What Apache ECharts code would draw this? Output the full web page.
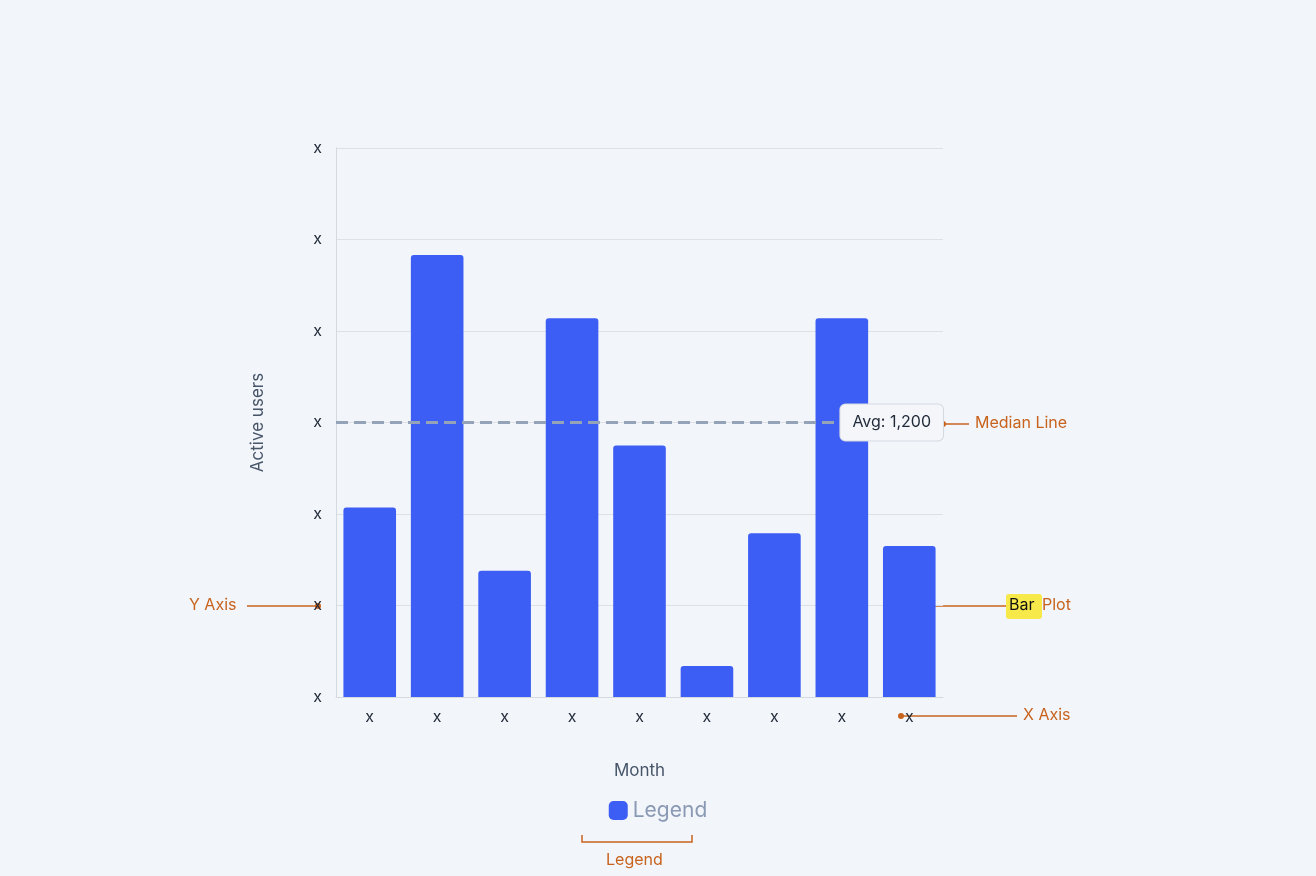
<!DOCTYPE html>
<html>
<head>
<meta charset="utf-8">
<script src="https://cdn.jsdelivr.net/npm/echarts@6/dist/echarts.min.js"></script>
<style>
  html, body { margin: 0; padding: 0; background: #f2f5fa; }
  #main { width: 1316px; height: 876px; }
</style>
</head>
<body>
<div id="main"></div>
<script>
// chart data
var months = ['Jan', 'Feb', 'Mar', 'Apr', 'May', 'Jun', 'Jul', 'Aug', 'Sep'];
var activeUsers = [828, 1932, 552, 1656, 1100, 136, 716, 1656, 660];
var avgValue = 1200;

var orange = '#c8631e';
var chart = echarts.init(document.getElementById('main'));

var option = {
    backgroundColor: '#f2f5fa',
    textStyle: { fontFamily: 'Inter' },
    grid: { left: 336, right: 373, top: 148, bottom: 179 },
    legend: {
        bottom: 50,
        left: 'center',
        itemWidth: 19,
        itemHeight: 19,
        itemGap: 12,
        icon: 'roundRect',
        textStyle: { color: '#8a9ab5', fontSize: 21, fontFamily: 'Inter' },
        data: ['Legend']
    },
    xAxis: {
        type: 'category',
        data: months,
        name: 'Month',
        nameLocation: 'middle',
        nameGap: 65,
        nameTextStyle: { color: '#475569', fontSize: 17 },
        axisLine: { lineStyle: { color: '#d5d9e0' } },
        axisTick: { show: false },
        axisLabel: { color: '#1f2937', fontSize: 16, margin: 12, formatter: function () { return 'x'; } }
    },
    yAxis: {
        type: 'value',
        min: 0,
        max: 2400,
        interval: 400,
        name: 'Active users',
        nameLocation: 'middle',
        nameGap: 70,
        nameTextStyle: { color: '#475569', fontSize: 17 },
        axisLine: { show: true, lineStyle: { color: '#d5d9e0' } },
        splitLine: { lineStyle: { color: '#dde1e7' } },
        axisLabel: { color: '#1f2937', fontSize: 16, margin: 14, formatter: function () { return 'x'; } }
    },
    series: [
        {
            name: 'Legend',
            type: 'bar',
            data: activeUsers,
            barCategoryGap: '22%',
            itemStyle: { color: '#3d5ef5', borderRadius: [3, 3, 0, 0] },
            markLine: {
                silent: true,
                symbol: 'none',
                data: [{ yAxis: avgValue }],
                lineStyle: { color: '#94a3b8', type: 'dashed', width: 3 },
                label: {
                    position: 'insideEnd',
                    distance: 0,
                    formatter: 'Avg: 1,200',
                    color: '#1f2937',
                    fontSize: 16,
                    backgroundColor: '#f4f6fa',
                    borderColor: '#d5d9e0',
                    borderWidth: 1,
                    borderRadius: 5,
                    padding: [10, 12]
                }
            }
        }
    ],
    graphic: [
        // Y axis annotation
        { type: 'text', left: 189, top: 597, style: { text: 'Y Axis', fill: orange, font: '16px Inter' } },
        { type: 'line', shape: { x1: 247, y1: 606, x2: 318, y2: 606 }, style: { stroke: orange, lineWidth: 1.5 } },
        { type: 'circle', shape: { cx: 318, cy: 606, r: 3 }, style: { fill: orange } },
        // Median line annotation
        { type: 'circle', shape: { cx: 943, cy: 424, r: 3 }, style: { fill: orange } },
        { type: 'line', shape: { x1: 943, y1: 424, x2: 969, y2: 424 }, style: { stroke: orange, lineWidth: 1.5 } },
        { type: 'text', left: 975, top: 415, style: { text: 'Median Line', fill: orange, font: '16px Inter' } },
        // Bar plot annotation
        { type: 'circle', shape: { cx: 923, cy: 606, r: 3 }, style: { fill: orange } },
        { type: 'line', shape: { x1: 923, y1: 606, x2: 1006, y2: 606 }, style: { stroke: orange, lineWidth: 1.5 } },
        { type: 'rect', shape: { x: 1006, y: 594, width: 36, height: 25, r: 3 }, style: { fill: '#f7e94a' } },
        { type: 'text', left: 1009, top: 597, style: { text: 'Bar', fill: '#111', font: '16px Inter' } },
        { type: 'text', left: 1042, top: 597, style: { text: 'Plot', fill: orange, font: '16px Inter' } },
        // X axis annotation
        { type: 'circle', shape: { cx: 901, cy: 716, r: 3 }, style: { fill: orange } },
        { type: 'line', shape: { x1: 901, y1: 716, x2: 1017, y2: 716 }, style: { stroke: orange, lineWidth: 1.5 } },
        { type: 'text', left: 1023, top: 707, style: { text: 'X Axis', fill: orange, font: '16px Inter' } },
        // Legend bracket
        { type: 'polyline', shape: { points: [[582, 835], [582, 842], [692, 842], [692, 835]] }, style: { stroke: orange, lineWidth: 1.5, fill: null } },
        { type: 'text', left: 606, top: 852, style: { text: 'Legend', fill: orange, font: '16px Inter' } }
    ]
};

chart.setOption(option);
</script>
</body>
</html>
